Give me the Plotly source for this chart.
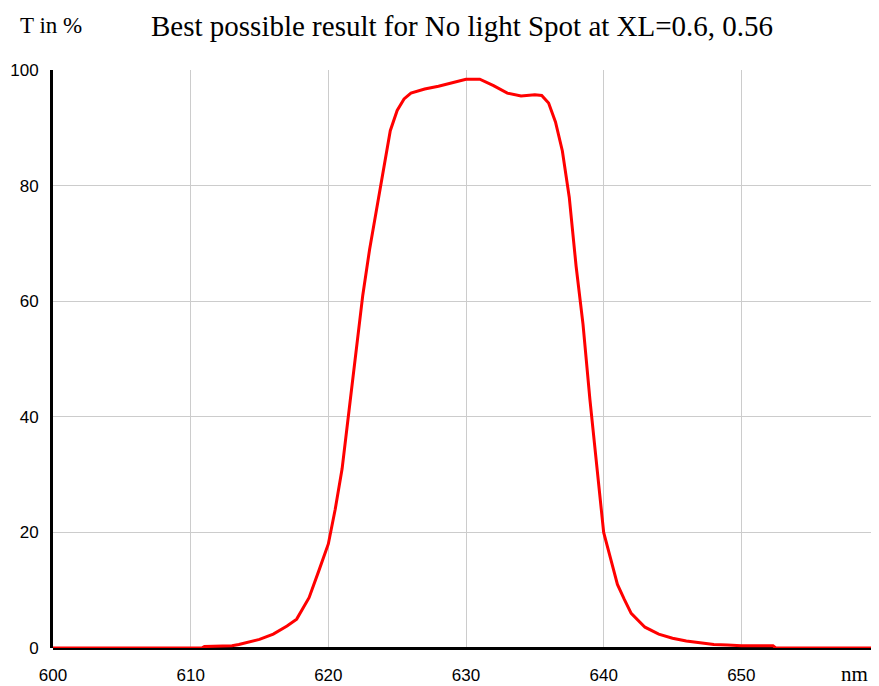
import plotly.graph_objects as go

wavelength_nm = [600, 605, 610, 610.8, 611, 612, 613, 613.5, 614, 615, 616, 617, 617.7, 618.6, 619.3,
                 620, 620.5, 621, 621.5, 622, 622.5, 623, 623.5, 624, 624.5, 625, 625.5, 626, 627,
                 628, 629, 630, 631, 632, 633, 634, 635, 635.5, 636, 636.5, 637, 637.5, 638, 638.5,
                 639, 639.5, 640, 640.5, 641, 641.5, 642, 643, 644, 645, 646, 647, 648, 649, 650,
                 652.3, 652.5, 660]
transmission_pct = [0, 0, 0, 0, 0.25, 0.3, 0.4, 0.6, 0.9, 1.5, 2.4, 3.8, 5.0, 8.7, 13.3,
                    18, 24, 31, 41, 51, 61, 69, 76, 83, 89.5, 93, 95, 96, 96.7,
                    97.2, 97.8, 98.4, 98.4, 97.3, 96, 95.5, 95.7, 95.6, 94.3, 91, 86, 78, 66, 56,
                    43, 31, 20, 15.5, 11, 8.4, 6, 3.6, 2.4, 1.7, 1.2, 0.9, 0.6, 0.5, 0.4,
                    0.4, 0, 0]

x_ticks = [600, 610, 620, 630, 640, 650]
y_ticks = [0, 20, 40, 60, 80, 100]

title_text = "Best possible result for No light Spot at XL=0.6, 0.56"
y_label = "T in %"
x_label = "nm"

fig = go.Figure()
fig.add_trace(go.Scatter(x=wavelength_nm, y=transmission_pct, mode="lines",
                         line=dict(color="#ff0000", width=3), showlegend=False,
                         hoverinfo="skip"))

tick_font = dict(family="Liberation Sans", size=17, color="#000000")
serif = "Liberation Serif"

PW, PH = 826, 578  # plot area size in px

fig.update_layout(
    width=871, height=678,
    margin=dict(l=45, r=0, t=62, b=38, pad=0),
    paper_bgcolor="white", plot_bgcolor="white",
    xaxis=dict(range=[600, 660], tickvals=x_ticks, ticktext=[str(v) for v in x_ticks],
               showgrid=True, gridcolor="#cccccc", gridwidth=1, zeroline=False,
               showline=False, ticks="", tickfont=tick_font, ticklabelstandoff=15,
               automargin=False),
    yaxis=dict(range=[0, 100], tickvals=y_ticks, ticktext=[str(v) for v in y_ticks],
               showgrid=True, gridcolor="#cccccc", gridwidth=1,
               zeroline=True, zerolinecolor="#000000", zerolinewidth=3,
               showline=True, linecolor="#000000", linewidth=3, ticks="",
               tickfont=tick_font, ticklabelstandoff=8, automargin=False),
    annotations=[
        dict(text=title_text, xref="paper", yref="paper", x=(462 - 53) / PW, y=1 + 44 / PH,
             xanchor="center", yanchor="middle", showarrow=False,
             font=dict(family=serif, size=29, color="#000000")),
        dict(text=y_label, xref="paper", yref="paper", x=-35 / PW, y=1 + 44 / PH,
             xanchor="left", yanchor="middle", showarrow=False,
             font=dict(family=serif, size=23, color="#000000")),
        dict(text=x_label, xref="paper", yref="paper", x=1.0, y=-26 / PH,
             xanchor="right", xshift=-9, yanchor="middle", showarrow=False,
             font=dict(family=serif, size=21, color="#000000")),
    ],
)

fig.write_html("out.html")
